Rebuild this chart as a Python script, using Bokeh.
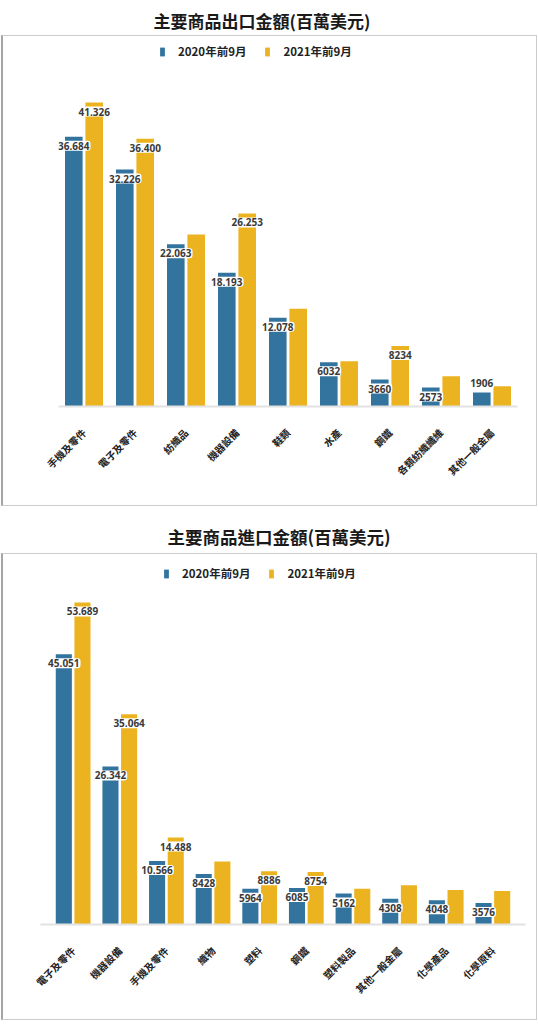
import math
from bokeh.plotting import figure
from bokeh.models import ColumnDataSource, Legend, LegendItem, Range1d, FactorRange
from bokeh.transform import dodge
from bokeh.layouts import column
from bokeh.embed import file_html
from bokeh.resources import INLINE
from bokeh.core.properties import value

series_names = ["2020年前9月", "2021年前9月"]

export_title = "主要商品出口金額(百萬美元)"
export_cats = ["手機及零件", "電子及零件", "紡織品", "機器設備", "鞋類", "水產", "鋼鐵", "各類紡織纖維", "其他一般金屬"]
export_2020 = [36684, 32226, 22063, 18193, 12078, 6032, 3660, 2573, 1906]
export_2021 = [41326, 36400, 23400, 26253, 13300, 6150, 8234, 4100, 2750]
export_2020_labeled = [True, True, True, True, True, True, True, True, True]
export_2021_labeled = [True, True, False, True, False, False, True, False, False]

import_title = "主要商品進口金額(百萬美元)"
import_cats = ["電子及零件", "機器設備", "手機及零件", "織物", "塑料", "鋼鐵", "塑料製品", "其他一般金屬", "化學產品", "化學原料"]
import_2020 = [45051, 26342, 10566, 8428, 5964, 6085, 5162, 4308, 4048, 3576]
import_2021 = [53689, 35064, 14488, 10500, 8886, 8754, 5950, 6550, 5770, 5600]
import_2020_labeled = [True, True, True, True, True, True, True, True, True, True]
import_2021_labeled = [True, True, True, False, True, True, False, False, False, False]

BLUE = "#33749f"
GOLD = "#ecb321"
CJK = "Noto Sans CJK TC"
PAGE_W = 538


def fmt(v):
    return f"{v:,}".replace(",", ".") if v >= 10000 else str(v)


def make_title(text, H, lx, cy, size):
    t = figure(width=PAGE_W, height=H, x_range=Range1d(0, PAGE_W), y_range=Range1d(H, 0),
               output_backend="svg", toolbar_location=None, min_border=0,
               x_axis_location=None, y_axis_location=None, frame_align=False,
               outline_line_color=None, border_fill_color="white",
               background_fill_color="white")
    t.grid.visible = False
    src = ColumnDataSource(dict(x=[lx], y=[cy], t=[text]))
    t.text(x="x", y="y", text="t", source=src, text_align="left",
           text_baseline="middle", text_font=value(CJK), text_font_style="bold",
           text_font_size=size, text_color="#1a1a1a")
    return t


def make_chart(cats, v1, v2, lab1, lab2, W, H, fl, fr, ft, fb, y_end,
               leg_x, leg_cy, pad_pct=0.0):
    frame_h = fb - ft
    xr = FactorRange(*cats, range_padding=pad_pct, range_padding_units="percent")
    p = figure(width=W, height=H, x_range=xr, y_range=Range1d(0, y_end),
               output_backend="svg", toolbar_location=None, y_axis_location=None,
               frame_align=False,
               min_border_left=fl, min_border_right=W - fr,
               min_border_top=ft, min_border_bottom=H - fb,
               outline_line_color=None, background_fill_color="white",
               border_fill_color="white",
               styles={"border": "1px solid #cccccc",
                       "border-left": "2px solid #a5a5a5",
                       "margin-left": "1px"})

    p.xgrid.visible = False
    p.ygrid.visible = False
    ax = p.xaxis[0]
    ax.major_label_orientation = math.pi / 4
    ax.major_label_text_font = CJK
    ax.major_label_text_font_size = "10px"
    ax.major_label_text_font_style = "bold"
    ax.major_label_text_color = "#222222"
    ax.axis_line_color = "#e2e2e2"
    ax.axis_line_width = 2
    ax.major_tick_line_color = None
    ax.minor_tick_line_color = None
    ax.major_label_standoff = 18

    src = ColumnDataSource(dict(cat=cats, v1=v1, v2=v2))
    r1 = p.vbar(x=dodge("cat", -0.2, range=p.x_range), top="v1", width=0.345,
                source=src, fill_color=BLUE, line_color=None)
    r2 = p.vbar(x=dodge("cat", 0.2, range=p.x_range), top="v2", width=0.345,
                source=src, fill_color=GOLD, line_color=None)

    for off, vals, labs in ((-0.2, v1, lab1), (0.2, v2, lab2)):
        c = [cats[i] for i in range(len(cats)) if labs[i]]
        vv = [vals[i] for i in range(len(cats)) if labs[i]]
        tt = [fmt(x) for x in vv]
        oo = [(-9 if x * frame_h / y_end < 18 else 9) for x in vv]
        ls = ColumnDataSource(dict(cat=c, v=vv, t=tt, o=oo))
        p.text(x=dodge("cat", off, range=p.x_range), y="v", text="t", y_offset="o",
               source=ls, text_align="center", text_baseline="middle",
               text_font=value("Open Sans"), text_font_style="bold",
               text_font_size="10px", text_color="#3a3a3a",
               background_fill_color="white", padding=1, border_radius=3)

    leg_h = 12
    legend = Legend(items=[LegendItem(label=series_names[0], renderers=[r1]),
                           LegendItem(label=series_names[1], renderers=[r2])],
                    orientation="horizontal",
                    location=(leg_x - fl, fb - (leg_cy + leg_h / 2)),
                    glyph_width=6, glyph_height=11, label_height=12,
                    label_standoff=13, spacing=18, padding=0, margin=0,
                    border_line_color=None, background_fill_alpha=0,
                    label_text_font=CJK, label_text_font_style="bold",
                    label_text_font_size="11.5px", label_text_color="#222222")
    p.add_layout(legend)
    return p


t1 = make_title(export_title, 35, 153, 20, "17px")
p1 = make_chart(export_cats, export_2020, export_2021,
                export_2020_labeled, export_2021_labeled,
                536, 471, 55, 514, 6, 370, 49500, 156, 17)
t2 = make_title(import_title, 47, 167, 30, "17.5px")
p2 = make_chart(import_cats, import_2020, import_2021,
                import_2020_labeled, import_2021_labeled,
                536, 467, 37, 522, 3, 370, 61180, 160, 21, pad_pct=0.04)

layout = column(t1, p1, t2, p2)
open("out.html", "w").write(file_html(layout, INLINE))
